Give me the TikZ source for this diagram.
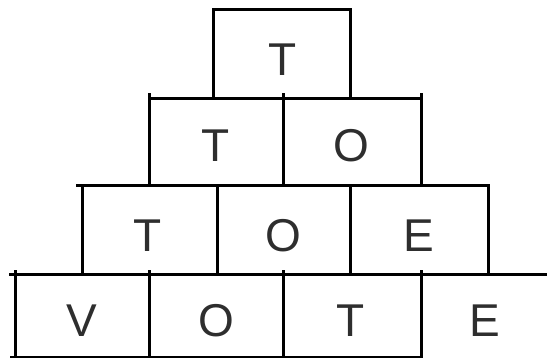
\documentclass[tikz,border=0pt]{standalone}
\usepackage{fontspec}
\setmainfont{Liberation Sans}
\begin{document}
\begin{tikzpicture}[x=1pt,y=-1pt,
  frame/.style={line width=3pt,line cap=rect},
  thin frame/.style={line width=1.6pt},
  letter/.style={anchor=base,inner sep=0pt,text=black!82,font=\fontsize{46}{46}\selectfont}]
\useasboundingbox (0,0) rectangle (547,358);
% top box
\draw[frame] (213,99) -- (213,10) -- (350,10) -- (350,99);
% row 2
\draw[frame] (149,99) -- (421,99);
\draw[frame] (149,95) -- (149,186);
\draw[frame] (283,95) -- (283,186);
\draw[frame] (421,95) -- (421,186);
% row 3
\draw[frame] (77,186) -- (488,186);
\draw[frame] (82,186) -- (82,275);
\draw[frame] (217,186) -- (217,275);
\draw[frame] (350,186) -- (350,275);
\draw[frame] (488,186) -- (488,275);
% row 4
\draw[frame] (10,275) -- (547,275);
\draw[frame] (15,272) -- (15,358);
\draw[frame] (149,272) -- (149,358);
\draw[frame] (283,272) -- (283,358);
\draw[frame] (421,272) -- (421,358);
\draw[thin frame] (10,357) -- (421,357);
% letters
\node[letter] (t1) at (283,76) {T};
\node[letter] (t2a) at (216,162) {T};
\node[letter] (t2b) at (351,162) {O};
\node[letter] (t3a) at (148,252) {T};
\node[letter] (t3b) at (283,252) {O};
\node[letter] (t3c) at (419,252) {E};
\node[letter] (t4a) at (82,337) {V};
\node[letter] (t4b) at (216,337) {O};
\node[letter] (t4c) at (351,337) {T};
\node[letter] (t4d) at (485,337) {E};
\end{tikzpicture}
\end{document}
